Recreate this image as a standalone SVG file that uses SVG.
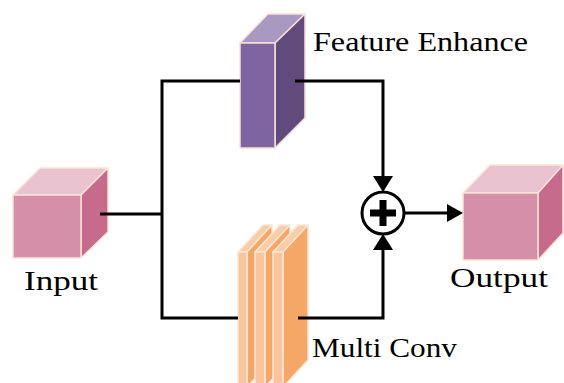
<svg xmlns="http://www.w3.org/2000/svg" width="564" height="383" viewBox="0 0 564 383">
<style>
.lbl{font-family:"Liberation Serif","Times New Roman",serif;font-size:28px;fill:#000}
.pf{fill:#D68FA8;stroke:#FCE4D6;stroke-width:1.5;stroke-linejoin:round}
.ps{fill:#C76B8C;stroke:#FCE4D6;stroke-width:1.5;stroke-linejoin:round}
.pt{fill:#EAC3D1;stroke:#FCE4D6;stroke-width:1.5;stroke-linejoin:round}
.vf{fill:#7E64A0;stroke:#F8E0D6;stroke-width:1.5;stroke-linejoin:round}
.vs{fill:#614B7C;stroke:#F8E0D6;stroke-width:1.5;stroke-linejoin:round}
.vt{fill:#A898C2;stroke:#F8E0D6;stroke-width:1.5;stroke-linejoin:round}
.of{fill:#F8C59C;stroke:#FDE6D2;stroke-width:1.5;stroke-linejoin:round}
.os{fill:#F4A767;stroke:#FDE6D2;stroke-width:1.5;stroke-linejoin:round}
.ot{fill:#F9CDA8;stroke:#FDE6D2;stroke-width:1.5;stroke-linejoin:round}
.ln{fill:none;stroke:#000;stroke-width:3;stroke-linejoin:miter}
.ah{fill:#000}
</style>
<g id="input">
<polygon class="pt" points="13,195 40,168 108,168 81,195"/>
<polygon class="ps" points="81,195 108,168 108,232 81,258"/>
<polygon class="pf" points="13,195 81,195 81,258 13,258"/>
<text class="lbl" x="24" y="290" textLength="74" lengthAdjust="spacingAndGlyphs">Input</text>
</g>
<g id="feature-enhance">
<polygon class="vt" points="240,43 268,14 305,14 275,43"/>
<polygon class="vs" points="275,43 305,14 305,118 275,148"/>
<polygon class="vf" points="240,43 275,43 275,148 240,148"/>
<text class="lbl" x="313" y="51" textLength="215" lengthAdjust="spacingAndGlyphs">Feature Enhance</text>
</g>
<g id="multi-conv">
<polygon class="ot" points="238,252 263,225 272,225 247,252"/>
<polygon class="os" points="247,252 272,225 272,360 247,387"/>
<polygon class="of" points="238,252 247,252 247,387 238,387"/>
<polygon class="ot" points="255,252 280,225 290,225 265,252"/>
<polygon class="os" points="265,252 290,225 290,360 265,387"/>
<polygon class="of" points="255,252 265,252 265,387 255,387"/>
<polygon class="ot" points="273,252 298,225 308,225 283,252"/>
<polygon class="os" points="283,252 308,225 308,360 283,387"/>
<polygon class="of" points="273,252 283,252 283,387 273,387"/>
<text class="lbl" x="312" y="357" textLength="145" lengthAdjust="spacingAndGlyphs">Multi Conv</text>
</g>
<g id="output">
<polygon class="pt" points="463,193 490,165 563,165 538,193"/>
<polygon class="ps" points="538,193 563,165 563,233 538,260"/>
<polygon class="pf" points="463,193 538,193 538,260 463,260"/>
<text class="lbl" x="450" y="287" textLength="98" lengthAdjust="spacingAndGlyphs">Output</text>
</g>
<g id="add">
<circle cx="383" cy="213" r="21" fill="#fff" stroke="#000" stroke-width="3"/>
<rect x="370" y="209.5" width="26" height="7" fill="#000"/>
<rect x="379.5" y="200" width="7" height="26" fill="#000"/>
</g>
<g id="connectors">
<polyline class="ln" points="100,214 162,214"/>
<polyline class="ln" points="240,81 162,81 162,318 238,318"/>
<polyline class="ln" points="295,81 383,81 383,178"/>
<polygon class="ah" points="383,192 373,176 393,176"/>
<polyline class="ln" points="298,318 383,318 383,249"/>
<polygon class="ah" points="383,234 373,250 393,250"/>
<polyline class="ln" points="404,213 449,213"/>
<polygon class="ah" points="463,213 447,204 447,222"/>
</g>
</svg>
